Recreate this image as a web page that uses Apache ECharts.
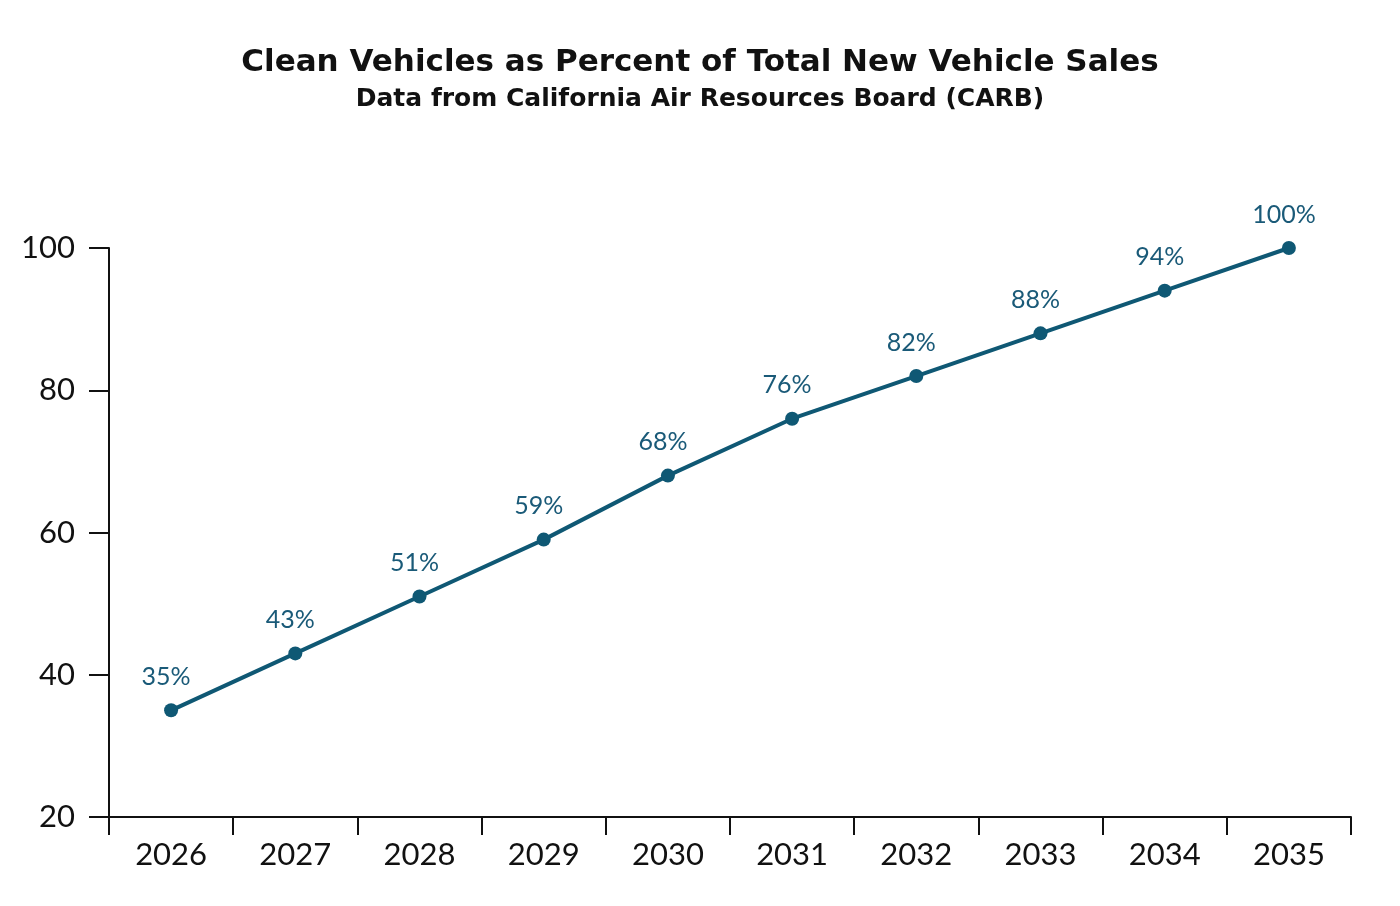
<!DOCTYPE html>
<html>
<head>
<meta charset="utf-8">
<script src="https://cdn.jsdelivr.net/npm/echarts@6/dist/echarts.min.js"></script>
<style>
  html, body { margin: 0; padding: 0; background: #fff; }
  #chart { width: 1400px; height: 906px; }
</style>
</head>
<body>
<div id="chart"></div>
<script>
const years = ['2026', '2027', '2028', '2029', '2030', '2031', '2032', '2033', '2034', '2035'];
const cleanShare = [35, 43, 51, 59, 68, 76, 82, 88, 94, 100];
const yTicks = [20, 40, 60, 80, 100];

const lineColor = '#0f5874';

const chart = echarts.init(document.getElementById('chart'));
chart.setOption({
  animation: false,
  backgroundColor: '#fff',
  title: {
    text: 'Clean Vehicles as Percent of Total New Vehicle Sales',
    subtext: 'Data from California Air Resources Board (CARB)',
    left: 'center',
    top: 42,
    itemGap: 9,
    textStyle: { fontFamily: 'DejaVu Sans', fontWeight: 'bold', fontSize: 31, color: '#111' },
    subtextStyle: { fontFamily: 'DejaVu Sans', fontWeight: 'bold', fontSize: 25, color: '#111' }
  },
  grid: { left: 109, right: 49, top: 248, bottom: 89 },
  xAxis: {
    type: 'category',
    data: years,
    boundaryGap: true,
    axisLine: { lineStyle: { color: '#111', width: 2 } },
    axisTick: { show: true, length: 18, lineStyle: { color: '#111', width: 2 } },
    axisLabel: { fontFamily: 'Lato', fontSize: 31, color: '#111', margin: 22 }
  },
  yAxis: {
    type: 'value',
    min: yTicks[0],
    max: yTicks[yTicks.length - 1],
    interval: 20,
    splitLine: { show: false },
    axisLine: { show: true, lineStyle: { color: '#111', width: 2 } },
    axisTick: { show: true, length: 20, lineStyle: { color: '#111', width: 2 } },
    axisLabel: { fontFamily: 'Lato', fontSize: 31, color: '#111', margin: 34 }
  },
  series: [{
    type: 'line',
    data: cleanShare,
    symbol: 'circle',
    symbolSize: 14,
    lineStyle: { color: lineColor, width: 4 },
    itemStyle: { color: lineColor },
    label: {
      show: true,
      position: 'top',
      distance: 14,
      offset: [-5, 0],
      formatter: p => p.value + '%',
      fontFamily: 'Lato',
      fontSize: 25,
      color: '#1a5a78'
    }
  }]
});
</script>
</body>
</html>
